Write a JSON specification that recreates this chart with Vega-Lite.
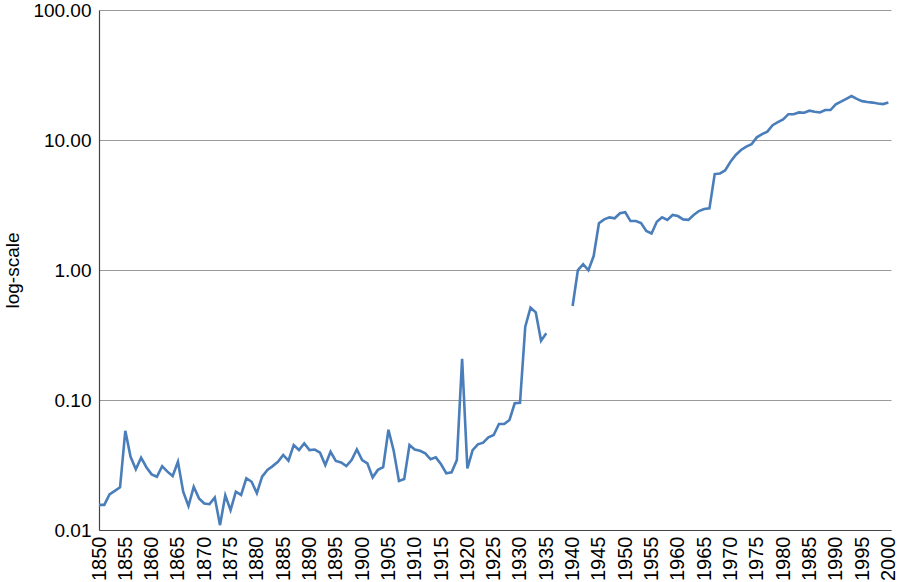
{
  "$schema": "https://vega.github.io/schema/vega-lite/v6.json",
  "width": 792,
  "height": 520,
  "autosize": {"type": "none"},
  "padding": {"left": 99, "top": 10, "right": 9, "bottom": 52},
  "background": "white",
  "config": {
    "view": {"stroke": null},
    "font": "Liberation Sans",
    "axis": {"labelFont": "Liberation Sans", "titleFont": "Liberation Sans"}
  },
  "data": {
    "values": [
      {"year": 1850, "value": 0.0156}, {"year": 1851, "value": 0.0156}, {"year": 1852, "value": 0.0188}, {"year": 1853, "value": 0.020}, {"year": 1854, "value": 0.0213},
      {"year": 1855, "value": 0.058}, {"year": 1856, "value": 0.0366}, {"year": 1857, "value": 0.0293}, {"year": 1858, "value": 0.036}, {"year": 1859, "value": 0.0304},
      {"year": 1860, "value": 0.0268}, {"year": 1861, "value": 0.0257}, {"year": 1862, "value": 0.031}, {"year": 1863, "value": 0.0281}, {"year": 1864, "value": 0.026},
      {"year": 1865, "value": 0.0335}, {"year": 1866, "value": 0.0197}, {"year": 1867, "value": 0.0153}, {"year": 1868, "value": 0.0215}, {"year": 1869, "value": 0.0175},
      {"year": 1870, "value": 0.016}, {"year": 1871, "value": 0.0158}, {"year": 1872, "value": 0.0178}, {"year": 1873, "value": 0.0109}, {"year": 1874, "value": 0.0185},
      {"year": 1875, "value": 0.0142}, {"year": 1876, "value": 0.0197}, {"year": 1877, "value": 0.0186}, {"year": 1878, "value": 0.025}, {"year": 1879, "value": 0.0235},
      {"year": 1880, "value": 0.0192}, {"year": 1881, "value": 0.0257}, {"year": 1882, "value": 0.029}, {"year": 1883, "value": 0.031}, {"year": 1884, "value": 0.0335},
      {"year": 1885, "value": 0.0378}, {"year": 1886, "value": 0.0341}, {"year": 1887, "value": 0.045}, {"year": 1888, "value": 0.0412}, {"year": 1889, "value": 0.0464},
      {"year": 1890, "value": 0.0412}, {"year": 1891, "value": 0.0416}, {"year": 1892, "value": 0.0393}, {"year": 1893, "value": 0.0316}, {"year": 1894, "value": 0.040},
      {"year": 1895, "value": 0.034}, {"year": 1896, "value": 0.0331}, {"year": 1897, "value": 0.031}, {"year": 1898, "value": 0.0345}, {"year": 1899, "value": 0.0416},
      {"year": 1900, "value": 0.0345}, {"year": 1901, "value": 0.0326}, {"year": 1902, "value": 0.0254}, {"year": 1903, "value": 0.029}, {"year": 1904, "value": 0.0304},
      {"year": 1905, "value": 0.059}, {"year": 1906, "value": 0.0407}, {"year": 1907, "value": 0.0238}, {"year": 1908, "value": 0.0247}, {"year": 1909, "value": 0.045},
      {"year": 1910, "value": 0.0416}, {"year": 1911, "value": 0.0407}, {"year": 1912, "value": 0.0389}, {"year": 1913, "value": 0.035}, {"year": 1914, "value": 0.0362},
      {"year": 1915, "value": 0.032}, {"year": 1916, "value": 0.0273}, {"year": 1917, "value": 0.0278}, {"year": 1918, "value": 0.0345}, {"year": 1919, "value": 0.207},
      {"year": 1920, "value": 0.0298}, {"year": 1921, "value": 0.0412}, {"year": 1922, "value": 0.0456}, {"year": 1923, "value": 0.047}, {"year": 1924, "value": 0.0517},
      {"year": 1925, "value": 0.0538}, {"year": 1926, "value": 0.0654}, {"year": 1927, "value": 0.0654}, {"year": 1928, "value": 0.0702}, {"year": 1929, "value": 0.0943},
      {"year": 1930, "value": 0.0953}, {"year": 1931, "value": 0.366}, {"year": 1932, "value": 0.513}, {"year": 1933, "value": 0.472}, {"year": 1934, "value": 0.286},
      {"year": 1935, "value": 0.326}, {"year": 1936, "value": null}, {"year": 1937, "value": null}, {"year": 1938, "value": null}, {"year": 1939, "value": null},
      {"year": 1940, "value": 0.528}, {"year": 1941, "value": 1.0}, {"year": 1942, "value": 1.107}, {"year": 1943, "value": 0.995}, {"year": 1944, "value": 1.28},
      {"year": 1945, "value": 2.29}, {"year": 1946, "value": 2.45}, {"year": 1947, "value": 2.54}, {"year": 1948, "value": 2.5}, {"year": 1949, "value": 2.73},
      {"year": 1950, "value": 2.78}, {"year": 1951, "value": 2.38}, {"year": 1952, "value": 2.38}, {"year": 1953, "value": 2.3}, {"year": 1954, "value": 2.0},
      {"year": 1955, "value": 1.91}, {"year": 1956, "value": 2.35}, {"year": 1957, "value": 2.54}, {"year": 1958, "value": 2.43}, {"year": 1959, "value": 2.65},
      {"year": 1960, "value": 2.6}, {"year": 1961, "value": 2.45}, {"year": 1962, "value": 2.43}, {"year": 1963, "value": 2.65}, {"year": 1964, "value": 2.84},
      {"year": 1965, "value": 2.95}, {"year": 1966, "value": 2.98}, {"year": 1967, "value": 5.47}, {"year": 1968, "value": 5.53}, {"year": 1969, "value": 5.85},
      {"year": 1970, "value": 6.8}, {"year": 1971, "value": 7.67}, {"year": 1972, "value": 8.38}, {"year": 1973, "value": 8.89}, {"year": 1974, "value": 9.27},
      {"year": 1975, "value": 10.48}, {"year": 1976, "value": 11.1}, {"year": 1977, "value": 11.6}, {"year": 1978, "value": 13.0}, {"year": 1979, "value": 13.7},
      {"year": 1980, "value": 14.4}, {"year": 1981, "value": 15.8}, {"year": 1982, "value": 15.8}, {"year": 1983, "value": 16.3}, {"year": 1984, "value": 16.2},
      {"year": 1985, "value": 16.8}, {"year": 1986, "value": 16.5}, {"year": 1987, "value": 16.3}, {"year": 1988, "value": 17.0}, {"year": 1989, "value": 17.0},
      {"year": 1990, "value": 18.8}, {"year": 1991, "value": 19.7}, {"year": 1992, "value": 20.7}, {"year": 1993, "value": 21.8}, {"year": 1994, "value": 20.7},
      {"year": 1995, "value": 19.9}, {"year": 1996, "value": 19.6}, {"year": 1997, "value": 19.4}, {"year": 1998, "value": 19.1}, {"year": 1999, "value": 18.9},
      {"year": 2000, "value": 19.4}
    ]
  },
  "mark": {"type": "line", "color": "#4A7EBB", "strokeWidth": 2.6, "invalid": "break-paths-filter-domains"},
  "encoding": {
    "x": {
      "field": "year",
      "type": "quantitative",
      "scale": {"domain": [1850, 2000.5], "nice": false, "zero": false},
      "axis": {
        "title": null,
        "values": [1850, 1855, 1860, 1865, 1870, 1875, 1880, 1885, 1890, 1895, 1900, 1905, 1910, 1915, 1920, 1925, 1930, 1935, 1940, 1945, 1950, 1955, 1960, 1965, 1970, 1975, 1980, 1985, 1990, 1995, 2000],
        "format": "d",
        "labelAngle": 270,
        "labelAlign": "right",
        "labelBaseline": "middle",
        "labelPadding": 6,
        "labelFontSize": 20,
        "labelColor": "#000",
        "labelOverlap": false,
        "labelFlush": false,
        "ticks": false,
        "grid": false,
        "domainColor": "#444",
        "domainWidth": 1.2
      }
    },
    "y": {
      "field": "value",
      "type": "quantitative",
      "scale": {"type": "log", "domain": [0.01, 100], "nice": false},
      "axis": {
        "title": "log-scale",
        "titleFontSize": 19,
        "titleFontWeight": "normal",
        "titleColor": "#000",
        "titleAngle": 270,
        "titleBaseline": "alphabetic",
        "titleX": -81,
        "titleY": 260,
        "titleAlign": "center",
        "values": [0.01, 0.1, 1, 10, 100],
        "format": ".2f",
        "labelFontSize": 19,
        "labelColor": "#000",
        "labelPadding": 8,
        "labelOverlap": false,
        "labelFlush": false,
        "ticks": false,
        "grid": true,
        "gridColor": "#9a9a9a",
        "gridWidth": 1,
        "domainColor": "#444",
        "domainWidth": 1.2
      }
    }
  }
}
